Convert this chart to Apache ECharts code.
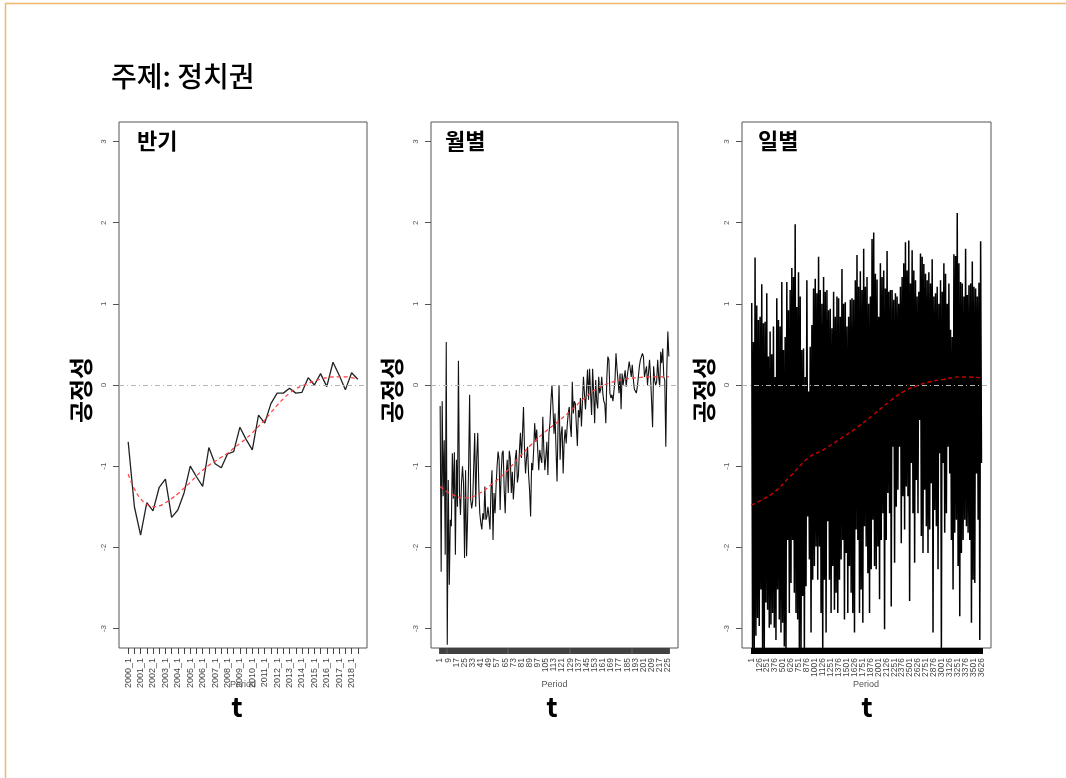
<!DOCTYPE html>
<html><head><meta charset="utf-8">
<script src="https://cdn.jsdelivr.net/npm/echarts@6/dist/echarts.min.js"></script>
<style>html,body{margin:0;padding:0;background:#fff}#c{width:1066px;height:778px}</style>
</head><body><div id="c"></div>
<script>
// ---------- data ----------
const halfYearLabels = ['2000_1','2000_2','2001_1','2001_2','2002_1','2002_2','2003_1','2003_2','2004_1','2004_2',
  '2005_1','2005_2','2006_1','2006_2','2007_1','2007_2','2008_1','2008_2','2009_1','2009_2',
  '2010_1','2010_2','2011_1','2011_2','2012_1','2012_2','2013_1','2013_2','2014_1','2014_2',
  '2015_1','2015_2','2016_1','2016_2','2017_1','2017_2','2018_1','2018_2'];
const halfYearValues = [-0.70,-1.50,-1.85,-1.45,-1.55,-1.26,-1.16,-1.63,-1.54,-1.33,
  -1.00,-1.13,-1.25,-0.77,-0.97,-1.02,-0.85,-0.82,-0.52,-0.67,
  -0.80,-0.37,-0.47,-0.23,-0.10,-0.10,-0.04,-0.10,-0.09,0.09,
  0.00,0.14,-0.02,0.28,0.12,-0.06,0.15,0.07];
const halfYearTrend = [-1.10,-1.28,-1.40,-1.47,-1.50,-1.49,-1.45,-1.40,-1.34,-1.27,
  -1.20,-1.12,-1.05,-0.99,-0.94,-0.89,-0.84,-0.78,-0.72,-0.66,
  -0.59,-0.51,-0.43,-0.34,-0.25,-0.17,-0.10,-0.05,-0.01,0.02,
  0.05,0.07,0.09,0.10,0.10,0.10,0.09,0.07];
const halfYearTickLabels = [1,3,5,7,9,11,13,15,17,19,21,23,25,27,29,31,33,35,37];

const monthlyValues = [
  -0.26,-2.30,-0.20,-1.37,-0.68,-2.09,0.53,-3.20,-1.17,-2.46,
  -1.66,-1.74,-0.84,-1.40,-0.83,-2.09,-0.92,-1.50,0.30,-1.33,
  -1.60,-1.21,-1.00,-1.21,-2.13,-1.05,-2.11,-1.64,-1.00,-0.12,
  -1.41,-1.52,-1.43,-1.41,-0.59,-1.50,-0.90,-0.59,-1.25,-1.58,
  -1.70,-1.78,-1.58,-1.66,-1.25,-1.66,-1.62,-1.50,-1.62,-1.78,
  -1.30,-1.05,-1.91,-1.33,-1.58,-1.25,-1.00,-0.82,-0.92,-1.54,
  -1.10,-0.84,-0.81,-1.29,-1.58,-1.10,-0.92,-1.33,-0.81,-0.90,
  -1.33,-1.07,-1.41,-1.20,-0.90,-0.80,-1.20,-1.11,-0.80,-0.59,
  -0.90,-0.60,-0.27,-0.80,-1.09,-0.90,-0.76,-1.10,-1.30,-1.62,
  -0.96,-1.05,-0.80,-0.47,-0.70,-0.55,-0.80,-1.05,-0.80,-0.90,
  -0.96,-0.39,-0.80,-1.05,-0.88,-0.70,-1.11,-0.60,-0.47,-0.20,
  0.00,-0.27,-0.60,-0.35,-0.80,-1.19,-0.50,0.00,-0.92,-0.60,
  -0.51,-1.09,-0.70,-0.55,-0.72,-0.50,-0.35,-0.27,-0.50,-0.64,
  0.04,-0.35,-0.20,-0.23,-0.50,-0.75,-0.31,-0.40,-0.16,-0.51,
  -0.20,0.10,-0.12,-0.30,-0.29,0.19,-0.18,0.20,-0.10,-0.37,
  0.20,-0.10,-0.47,0.06,-0.20,-0.29,0.10,-0.10,-0.05,0.10,
  -0.10,-0.20,-0.23,-0.47,0.10,0.35,0.31,-0.10,-0.16,-0.12,
  -0.20,-0.18,0.06,0.39,0.20,0.18,-0.10,0.14,-0.30,0.14,
  0.00,-0.02,0.18,-0.02,0.10,0.12,0.29,0.20,0.10,0.25,
  0.08,-0.05,-0.04,-0.10,-0.02,0.10,0.23,0.31,0.30,0.39,
  0.35,0.10,0.10,0.23,0.00,0.02,0.31,0.10,-0.20,-0.52,
  0.23,0.06,0.00,0.04,0.31,0.10,-0.02,0.41,0.27,0.45,
  0.10,0.06,-0.76,0.20,0.66,0.35];
const monthlyTickLabels = [1,9,17,25,33,41,49,57,65,73,81,89,97,105,113,121,129,137,145,153,161,169,177,185,193,201,209,217,225];
const monthlyTrend = [[1,-1.25],[13,-1.35],[26,-1.39],[39,-1.34],[52,-1.22],[65,-1.08],[78,-0.90],[91,-0.73],
  [104,-0.58],[117,-0.45],[130,-0.31],[143,-0.16],[156,-0.04],[169,0.03],[182,0.07],[195,0.09],[208,0.10],[226,0.10]];

const dailyCount = 3630;
const dailySampleStart = 9, dailySampleStep = 26.3;
const dailyHighs = [
  1.01,0.53,1.57,0.98,0.80,0.84,1.24,0.76,0.78,1.13,
  0.35,0.66,0.38,0.72,0.10,1.07,0.80,0.72,1.27,0.43,
  0.59,1.27,0.92,1.17,1.44,1.33,1.98,0.96,1.39,1.09,
  0.43,0.45,0.10,1.29,-0.08,0.47,0.74,1.19,1.31,1.13,
  1.58,1.17,1.00,1.33,1.15,1.17,0.92,0.94,0.70,1.15,
  0.84,1.09,1.07,0.84,1.43,1.00,1.02,0.72,0.84,1.05,
  1.07,1.05,1.29,1.60,1.21,1.40,1.17,1.68,1.21,1.33,
  1.00,1.09,1.80,1.88,1.37,1.30,0.84,1.50,1.33,1.41,
  1.19,1.65,1.15,1.17,1.17,1.05,1.13,1.09,1.00,1.21,
  1.33,1.50,1.76,1.41,1.78,1.25,1.66,1.41,1.29,1.09,
  1.15,1.62,1.58,1.49,1.37,1.29,1.39,1.25,1.55,1.09,
  1.13,1.21,1.00,1.29,1.15,1.50,1.37,1.00,1.25,0.68,
  0.59,1.61,1.59,2.12,1.50,1.27,1.25,1.09,1.68,1.11,
  1.23,1.25,1.52,1.21,1.19,1.09,1.26,1.77];
const dailyLows = [
  -3.30,-3.30,-3.09,-2.87,-2.97,-2.52,-3.30,-3.30,-2.68,-2.77,
  -2.99,-2.95,-2.81,-2.99,-3.14,-2.52,-2.89,-3.05,-2.93,-3.22,
  -3.30,-1.91,-2.81,-2.44,-1.91,-2.56,-2.81,-2.89,-3.30,-3.30,
  -2.60,-3.30,-2.48,-1.62,-2.15,-3.05,-2.40,-2.23,-1.99,-2.40,
  -1.99,-2.81,-3.30,-2.40,-3.05,-1.68,-2.40,-2.81,-2.23,-2.77,
  -2.56,-2.81,-2.40,-2.15,-1.91,-2.89,-2.07,-2.81,-2.23,-2.56,
  -2.81,-3.05,-1.78,-1.91,-2.81,-2.52,-2.93,-1.74,-1.99,-2.32,
  -2.81,-2.27,-1.66,-2.23,-2.27,-1.99,-2.64,-1.91,-1.58,-3.01,
  -1.91,-1.33,-1.58,-2.73,-0.76,-2.19,-1.50,-1.29,-0.76,-1.95,
  -1.37,-1.78,-1.25,-1.37,-2.66,-0.96,-1.58,-2.19,-1.17,-1.58,
  -0.43,-1.86,-2.07,-1.29,-1.74,-2.07,-1.78,-1.21,-3.05,-1.54,
  -1.74,-2.27,-0.84,-3.30,-0.96,-1.82,-1.58,-0.76,-1.09,-1.91,
  -2.52,-1.82,-1.66,-2.23,-2.85,-2.07,-1.91,-1.66,-1.74,-1.82,
  -1.91,-2.93,-2.40,-2.44,-1.09,-1.66,-3.14,-0.96];
const dailyTickLabels = [1,126,251,376,501,626,751,876,1001,1126,1251,1376,1501,1626,1751,1876,2001,2126,2251,2376,2501,2626,2751,2876,3001,3126,3251,3376,3501,3626];
const dailyTrend = [[1,-1.48],[345,-1.33],[609,-1.13],[913,-0.89],[1134,-0.80],[1449,-0.64],[1655,-0.53],[1918,-0.37],
  [2182,-0.20],[2423,-0.07],[2607,-0.01],[2818,0.04],[3028,0.07],[3291,0.10],[3626,0.09]];

const yTicks = [-3,-2,-1,0,1,2,3];

// ---------- build ----------
const range = n => Array.from({length:n}, (_, i) => i + 1);
const FONT = '"Liberation Sans", Arial, sans-serif';
const KFONT = '"Noto Sans CJK KR", sans-serif';

const gridBoxes = [
  {left:119, top:122, width:248, height:526},
  {left:431, top:122, width:247, height:526},
  {left:742, top:122, width:249, height:526}
];
const grids = gridBoxes.map(g => Object.assign({show:true, borderColor:'#555', borderWidth:1, backgroundColor:'transparent'}, g));

// For each panel: one axis with the tick rug (series bind to it) and two label-only axes
// (alternating labels, so ECharts' min/max overlap logic never drops any label).
function panelXAxes(idx, n, labels, fmt, fs, tickColor, tickWidth) {
  const pad = 0.04 * (n - 1);
  const base = {type:'value', gridIndex:idx, position:'bottom', offset:0, min:1 - pad, max:n + pad,
    axisLine:{show:false, onZero:false}, splitLine:{show:false}};
  const lab = vals => Object.assign({}, base, {
    axisTick:{show:false},
    axisLabel:{customValues:vals, rotate:90, fontSize:fs, fontFamily:FONT, color:'#444', margin:10,
      showMinLabel:true, showMaxLabel:true, formatter:fmt}
  });
  return [
    Object.assign({}, base, {
      axisTick:{show:true, length:6, customValues:range(n), lineStyle:{color:tickColor, width:tickWidth}},
      axisLabel:{show:false}
    }),
    lab(labels.filter((_, i) => i % 2 === 0)),
    lab(labels.filter((_, i) => i % 2 === 1))
  ];
}
function yAxis(idx) {
  return {
    type:'value', gridIndex:idx, position:'left', min:-3.24, max:3.24,
    axisLine:{show:false, onZero:false}, splitLine:{show:false},
    axisTick:{show:true, length:6, customValues:yTicks, lineStyle:{color:'#555'}},
    axisLabel:{customValues:yTicks, rotate:90, fontSize:8, fontFamily:FONT, color:'#555', margin:11,
      showMinLabel:true, showMaxLabel:true, formatter:v => String(v)}
  };
}
const zeroLine = {silent:true, symbol:['none','none'], label:{show:false}, animation:false,
  lineStyle:{color:'#b4b4b4', type:[5,3,1,3], width:1}, data:[{yAxis:0}]};

const dailyData = [];
dailyHighs.forEach((h, k) => {
  const d = dailySampleStart + k * dailySampleStep;
  dailyData.push([d, h]);
  dailyData.push([d + dailySampleStep / 2, dailyLows[k]]);
});

const xAxes = [].concat(
  panelXAxes(0, halfYearValues.length, halfYearTickLabels, v => halfYearLabels[v - 1], 9, '#444', 1),
  panelXAxes(1, monthlyValues.length, monthlyTickLabels, v => String(v), 8.5, '#404040', 1.8),
  panelXAxes(2, dailyCount, dailyTickLabels, v => String(v), 8.5, '#000', 1)
);

const option = {
  animation:false,
  backgroundColor:'#fff',
  grid:grids,
  xAxis:xAxes,
  yAxis:[yAxis(0), yAxis(1), yAxis(2)],
  series:[
    {type:'line', xAxisIndex:0, yAxisIndex:0, symbol:'none', z:2,
     data:halfYearValues.map((v, i) => [i + 1, v]), lineStyle:{color:'#222', width:1.3}},
    {type:'line', xAxisIndex:0, yAxisIndex:0, symbol:'none', z:3, smooth:true,
     data:halfYearTrend.map((v, i) => [i + 1, v]), lineStyle:{color:'#ff3b3b', width:1.2, type:[4,3]}, markLine:zeroLine},
    {type:'line', xAxisIndex:3, yAxisIndex:1, symbol:'none', z:2,
     data:monthlyValues.map((v, i) => [i + 1, v]), lineStyle:{color:'#111', width:1.1}},
    {type:'line', xAxisIndex:3, yAxisIndex:1, symbol:'none', z:3, smooth:true,
     data:monthlyTrend, lineStyle:{color:'#ff3b3b', width:1.2, type:[4,3]}, markLine:zeroLine},
    {type:'line', xAxisIndex:6, yAxisIndex:2, symbol:'none', z:2,
     data:dailyData, lineStyle:{color:'#000', width:1.5}},
    {type:'line', xAxisIndex:6, yAxisIndex:2, symbol:'none', z:3, smooth:true,
     data:dailyTrend, lineStyle:{color:'#d00000', width:1.4, type:[4,3]}, markLine:zeroLine}
  ],
  graphic:[
    {type:'line', shape:{x1:5, y1:3.5, x2:1066, y2:3.5}, style:{stroke:'#f3b46c', lineWidth:1.5}, silent:true},
    {type:'line', shape:{x1:5.5, y1:3, x2:5.5, y2:778}, style:{stroke:'#f3b46c', lineWidth:1.5}, silent:true},
    {type:'text', x:111, y:76, style:{text:'주제: 정치권', font:'500 28px ' + KFONT, fill:'#000', textAlign:'left', textVerticalAlign:'middle', align:'left', verticalAlign:'middle'}},
    {type:'text', x:137, y:141, style:{text:'반기', font:'bold 22px ' + KFONT, fill:'#000', textAlign:'left', textVerticalAlign:'middle', align:'left', verticalAlign:'middle'}},
    {type:'text', x:445, y:141, style:{text:'월별', font:'bold 22px ' + KFONT, fill:'#000', textAlign:'left', textVerticalAlign:'middle', align:'left', verticalAlign:'middle'}},
    {type:'text', x:758, y:141, style:{text:'일별', font:'bold 22px ' + KFONT, fill:'#000', textAlign:'left', textVerticalAlign:'middle', align:'left', verticalAlign:'middle'}},
    {type:'text', x:81, y:390, rotation:Math.PI/2, style:{text:'공정성', font:'bold 24px ' + KFONT, fill:'#000', textAlign:'center', textVerticalAlign:'middle', align:'center', verticalAlign:'middle'}},
    {type:'text', x:392, y:390, rotation:Math.PI/2, style:{text:'공정성', font:'bold 24px ' + KFONT, fill:'#000', textAlign:'center', textVerticalAlign:'middle', align:'center', verticalAlign:'middle'}},
    {type:'text', x:704, y:390, rotation:Math.PI/2, style:{text:'공정성', font:'bold 24px ' + KFONT, fill:'#000', textAlign:'center', textVerticalAlign:'middle', align:'center', verticalAlign:'middle'}},
    {type:'text', x:237, y:707, style:{text:'t', font:'bold 27px ' + KFONT, fill:'#000', textAlign:'center', textVerticalAlign:'middle', align:'center', verticalAlign:'middle'}},
    {type:'text', x:552, y:707, style:{text:'t', font:'bold 27px ' + KFONT, fill:'#000', textAlign:'center', textVerticalAlign:'middle', align:'center', verticalAlign:'middle'}},
    {type:'text', x:867, y:707, style:{text:'t', font:'bold 27px ' + KFONT, fill:'#000', textAlign:'center', textVerticalAlign:'middle', align:'center', verticalAlign:'middle'}},
    {type:'text', x:243, y:685, style:{text:'Period', font:'9px ' + FONT, fill:'#555', textAlign:'center', textVerticalAlign:'middle', align:'center', verticalAlign:'middle'}},
    {type:'text', x:554.5, y:685, style:{text:'Period', font:'9px ' + FONT, fill:'#555', textAlign:'center', textVerticalAlign:'middle', align:'center', verticalAlign:'middle'}},
    {type:'text', x:866, y:685, style:{text:'Period', font:'9px ' + FONT, fill:'#555', textAlign:'center', textVerticalAlign:'middle', align:'center', verticalAlign:'middle'}}
  ]
};
const chart = echarts.init(document.getElementById('c'));
chart.setOption(option);
</script>
</body></html>
